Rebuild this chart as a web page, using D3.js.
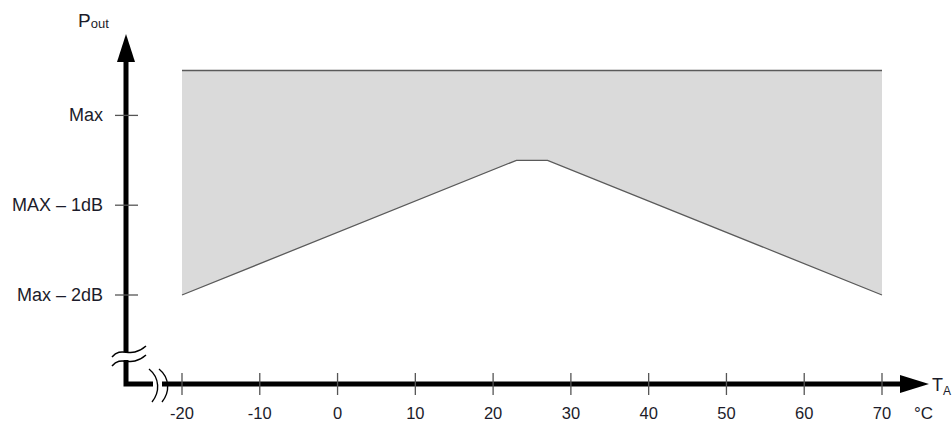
<!DOCTYPE html>
<html><head><meta charset="utf-8">
<script src="https://cdn.jsdelivr.net/npm/d3@7"></script>
<style>body{margin:0;background:#fff}svg{display:block}text{font-family:Arial,"Liberation Sans",sans-serif;fill:#1c1c2a}</style>
</head><body><svg id="c" width="952" height="425"></svg>
<script>
// Data
const temps = [-20, 23, 27, 70];
const lowerDb = [-2, -0.5, -0.5, -2];
const upperDb = [0.5, 0.5, 0.5, 0.5];
const xTicks = [-20, -10, 0, 10, 20, 30, 40, 50, 60, 70];
const yTicks = [0, -1, -2];
const yTickLabels = ["Max", "MAX \u2013 1dB", "Max \u2013 2dB"];

const svg = d3.select("#c");
const x = d3.scaleLinear().domain([-20, 70]).range([182, 882]);
const y = d3.scaleLinear().domain([-2, 0.5]).range([295, 70.5]);

const ax = 126, ay = 384;

// band
const pts = temps.map((t, i) => ({t, lo: lowerDb[i], hi: upperDb[i]}));
svg.append("path").datum(pts)
  .attr("d", d3.area().x(d => x(d.t)).y0(d => y(d.lo)).y1(d => y(d.hi)))
  .attr("fill", "#dadada");
svg.append("path").datum(pts)
  .attr("d", d3.line().x(d => x(d.t)).y(d => y(d.hi)))
  .attr("fill", "none").attr("stroke", "#5a5a5a").attr("stroke-width", 1.5);
svg.append("path").datum(pts)
  .attr("d", d3.line().x(d => x(d.t)).y(d => y(d.lo)))
  .attr("fill", "none").attr("stroke", "#5a5a5a").attr("stroke-width", 1.3);

// axes lines
svg.append("path").attr("d", `M${ax},58 L${ax},${ay} L905,${ay}`)
  .attr("fill", "none").attr("stroke", "#000").attr("stroke-width", 5).attr("stroke-linejoin", "miter");
// arrow heads
svg.append("path").attr("d", `M${ax},34 L${ax+9},62 L${ax-9},62 Z`).attr("fill", "#000");
svg.append("path").attr("d", `M929,${ay} L900,${ay-9} L900,${ay+9} Z`).attr("fill", "#000");

// breaks
svg.append("rect").attr("x", ax - 4).attr("y", 352).attr("width", 8).attr("height", 8).attr("fill", "#fff");
[[0, 0], [0, 9]].forEach(([dx, dy]) => {
  svg.append("path")
    .attr("d", `M${112+dx},${357+dy} C${122},${345+dy} ${130},${360+dy} ${146},${346+dy}`)
    .attr("fill", "none").attr("stroke", "#000").attr("stroke-width", 1.5);
});
svg.append("rect").attr("x", 153).attr("y", ay - 4).attr("width", 9).attr("height", 8).attr("fill", "#fff");
[0, 10].forEach(dx => {
  svg.append("path")
    .attr("d", `M${149+dx},369 C${160+dx},378 ${160+dx},392 ${152+dx},402`)
    .attr("fill", "none").attr("stroke", "#000").attr("stroke-width", 1.4);
});

// ticks
svg.selectAll(".xt").data(xTicks).join("line")
  .attr("x1", d => x(d)).attr("x2", d => x(d)).attr("y1", 373).attr("y2", 395)
  .attr("stroke", "#555").attr("stroke-width", 1.3);
svg.selectAll(".xl").data(xTicks).join("text")
  .attr("x", d => x(d)).attr("y", 419).attr("text-anchor", "middle")
  .attr("font-size", 16.5).text(d => d);
svg.selectAll(".yt").data(yTicks).join("line")
  .attr("x1", 115).attr("x2", 138).attr("y1", d => y(d)).attr("y2", d => y(d))
  .attr("stroke", "#555").attr("stroke-width", 1.3);
svg.selectAll(".yl").data(yTicks).join("text")
  .attr("x", 103).attr("y", d => y(d) + 6).attr("text-anchor", "end")
  .attr("font-size", 18).text((d, i) => yTickLabels[i]);

// axis titles
const pt = svg.append("text").attr("x", 78).attr("y", 27).attr("font-size", 19);
pt.append("tspan").text("P");
pt.append("tspan").attr("font-size", 13).attr("dy", 1).text("out");
const ta = svg.append("text").attr("x", 932).attr("y", 391).attr("font-size", 18);
ta.append("tspan").text("T");
ta.append("tspan").attr("font-size", 12).attr("dy", 4).text("A");
svg.append("text").attr("x", 914).attr("y", 419).attr("font-size", 17).text("\u00b0C");
</script></body></html>
